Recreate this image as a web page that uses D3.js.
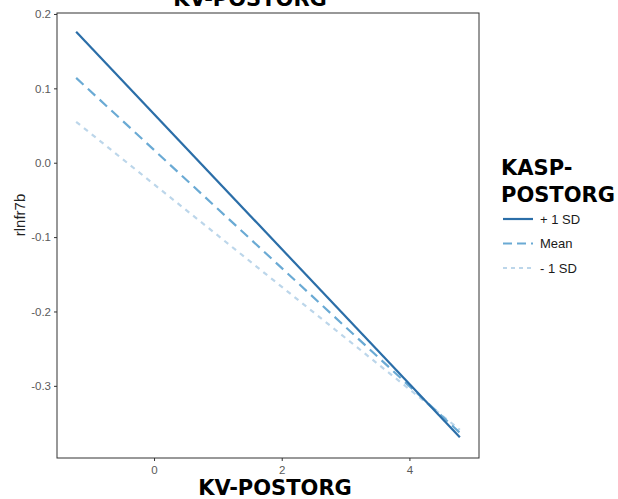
<!DOCTYPE html>
<html><head><meta charset="utf-8">
<script src="https://cdn.jsdelivr.net/npm/d3@7"></script>
<style>body{margin:0;background:#fff}svg{display:block}</style>
</head><body>
<svg id="c" width="618" height="499"></svg>
<script>
const seriesNames = ["+ 1 SD", "Mean", "- 1 SD"];
const xValues = [-1.22, 4.79];
const plusSD = [0.176, -0.369];
const meanVals = [0.114, -0.363];
const minusSD = [0.055, -0.359];
const xTicks = [0, 2, 4];
const yTicks = [0.2, 0.1, 0.0, -0.1, -0.2, -0.3];
const yTickLabels = ["0.2", "0.1", "0.0", "-0.1", "-0.2", "-0.3"];
const colors = ["#2b6ea8", "#6aaad4", "#bcd6ea"];
const dashes = [null, "10,6", "5,5"];

const svg = d3.select("#c");
const L = 57, R = 479, T = 13, B = 458;
const x = d3.scaleLinear().domain([-1.52, 5.09]).range([L, R]);
const y = d3.scaleLinear().domain([-0.397, 0.2013]).range([B, T]);

svg.append("rect").attr("x", L).attr("y", T).attr("width", R - L).attr("height", B - T)
  .attr("fill", "none").attr("stroke", "#333").attr("stroke-width", 1);

const xa = svg.append("g").attr("transform", `translate(0,${B})`)
  .call(d3.axisBottom(x).tickValues(xTicks).tickSize(3).tickPadding(5).tickFormat(d3.format("d")));
const ya = svg.append("g").attr("transform", `translate(${L},0)`)
  .call(d3.axisLeft(y).tickValues(yTicks).tickSize(3).tickPadding(3).tickFormat((d, i) => yTickLabels[i]));
[xa, ya].forEach(a => {
  a.select(".domain").remove();
  a.selectAll(".tick line").attr("stroke", "#333");
  a.selectAll(".tick text").attr("fill", "#5a5a5a").style("font-family", "Liberation Sans, Arial, sans-serif").style("font-size", "11.5px");
});

const data = [plusSD, meanVals, minusSD];
const line = d3.line().x((d, i) => x(xValues[i])).y(d => y(d));
[2, 1, 0].forEach(k => {
  svg.append("path").datum(data[k]).attr("d", line)
    .attr("fill", "none").attr("stroke", colors[k]).attr("stroke-width", 2.2)
    .attr("stroke-dasharray", dashes[k]);
});

svg.append("text").attr("x", 250).attr("y", 6).attr("text-anchor", "middle")
  .style("font-family", "DejaVu Sans, Verdana, sans-serif").style("font-weight", "bold").style("font-size", "21px")
  .text("KV-POSTORG");
svg.append("text").attr("x", 275).attr("y", 495).attr("text-anchor", "middle")
  .style("font-family", "DejaVu Sans, Verdana, sans-serif").style("font-weight", "bold").style("font-size", "21px")
  .text("KV-POSTORG");
svg.append("text").attr("transform", "translate(25,215) rotate(-90)").attr("text-anchor", "middle")
  .style("font-family", "Liberation Sans, Arial, sans-serif").style("font-size", "15px").attr("fill", "#222")
  .text("rlnfr7b");

const lg = svg.append("g");
lg.append("text").attr("x", 501).attr("y", 175)
  .style("font-family", "DejaVu Sans, Verdana, sans-serif").style("font-weight", "bold").style("font-size", "21px").text("KASP-");
lg.append("text").attr("x", 501).attr("y", 202)
  .style("font-family", "DejaVu Sans, Verdana, sans-serif").style("font-weight", "bold").style("font-size", "21px").text("POSTORG");
const legDash = [null, "9,5", "4,4"];
seriesNames.forEach((s, i) => {
  const yy = 219 + i * 24.5;
  lg.append("line").attr("x1", 503).attr("x2", 533).attr("y1", yy).attr("y2", yy)
    .attr("stroke", colors[i]).attr("stroke-width", 2.2).attr("stroke-dasharray", legDash[i]);
  lg.append("text").attr("x", 540).attr("y", yy + 4.5)
    .style("font-family", "Liberation Sans, Arial, sans-serif").style("font-size", "13px").attr("fill", "#1a1a1a").text(s);
});
</script>
</body></html>
